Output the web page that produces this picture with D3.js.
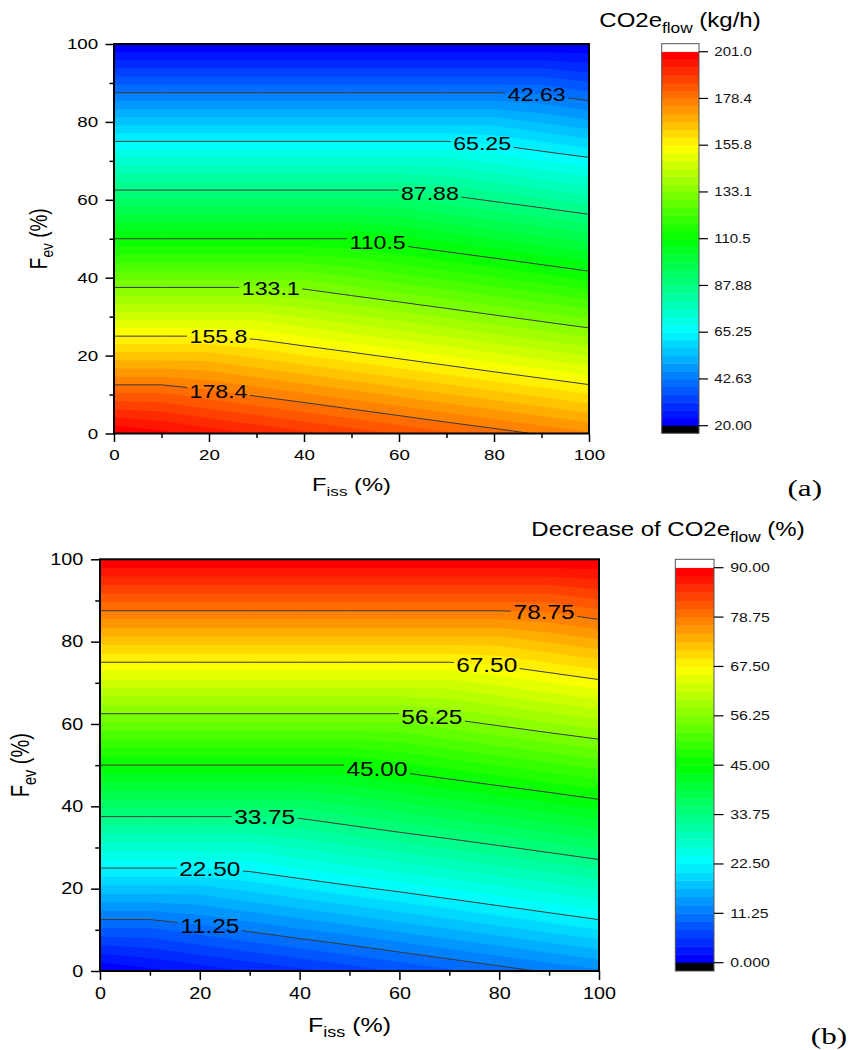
<!DOCTYPE html>
<html>
<head>
<meta charset="utf-8">
<script src="https://cdn.jsdelivr.net/npm/d3@7"></script>
<style>
  body { margin: 0; background: #fff; }
</style>
</head>
<body>
<svg id="chart"></svg>
<script>
////////////////////////////////////////////////////////////////////////
// Data

// grid positions (%)
const fissValues = [0, 10, 20, 30, 40, 50, 60, 70, 80, 90, 100];
const fevValues = [0, 10, 20, 30, 40, 50, 60, 70, 80, 90, 100];

// (a) CO2e flow (kg/h); one row per Fev, columns follow fissValues
const co2Flow = [
  [201.0, 198.4, 195.8, 193.3, 190.7, 188.1, 185.5, 182.9, 180.4, 177.8, 175.2],
  [182.9, 182.9, 180.3, 177.7, 175.2, 172.6, 170.0, 167.4, 164.8, 162.3, 159.7],
  [164.8, 164.8, 164.8, 162.2, 159.6, 157.1, 154.5, 151.9, 149.3, 146.7, 144.2],
  [146.7, 146.7, 146.7, 146.7, 144.1, 141.5, 139.0, 136.4, 133.8, 131.2, 128.6],
  [128.6, 128.6, 128.6, 128.6, 128.6, 126.0, 123.4, 120.9, 118.3, 115.7, 113.1],
  [110.5, 110.5, 110.5, 110.5, 110.5, 110.5, 107.9, 105.3, 102.8, 100.2, 97.6],
  [92.4, 92.4, 92.4, 92.4, 92.4, 92.4, 92.4, 89.8, 87.2, 84.7, 82.1],
  [74.3, 74.3, 74.3, 74.3, 74.3, 74.3, 74.3, 74.3, 71.7, 69.1, 66.6],
  [56.2, 56.2, 56.2, 56.2, 56.2, 56.2, 56.2, 56.2, 56.2, 53.6, 51.0],
  [38.1, 38.1, 38.1, 38.1, 38.1, 38.1, 38.1, 38.1, 38.1, 38.1, 35.5],
  [20.0, 20.0, 20.0, 20.0, 20.0, 20.0, 20.0, 20.0, 20.0, 20.0, 20.0]
];

// (b) decrease of CO2e flow (%)
const co2Decrease = [
  [0.0, 1.3, 2.6, 3.9, 5.1, 6.4, 7.7, 9.0, 10.3, 11.6, 12.8],
  [9.0, 9.0, 10.3, 11.6, 12.9, 14.1, 15.4, 16.7, 18.0, 19.3, 20.6],
  [18.0, 18.0, 18.0, 19.3, 20.6, 21.9, 23.1, 24.4, 25.7, 27.0, 28.3],
  [27.0, 27.0, 27.0, 27.0, 28.3, 29.6, 30.9, 32.1, 33.4, 34.7, 36.0],
  [36.0, 36.0, 36.0, 36.0, 36.0, 37.3, 38.6, 39.9, 41.1, 42.4, 43.7],
  [45.0, 45.0, 45.0, 45.0, 45.0, 45.0, 46.3, 47.6, 48.9, 50.1, 51.4],
  [54.0, 54.0, 54.0, 54.0, 54.0, 54.0, 54.0, 55.3, 56.6, 57.9, 59.1],
  [63.0, 63.0, 63.0, 63.0, 63.0, 63.0, 63.0, 63.0, 64.3, 65.6, 66.9],
  [72.0, 72.0, 72.0, 72.0, 72.0, 72.0, 72.0, 72.0, 72.0, 73.3, 74.6],
  [81.0, 81.0, 81.0, 81.0, 81.0, 81.0, 81.0, 81.0, 81.0, 81.0, 82.3],
  [90.0, 90.0, 90.0, 90.0, 90.0, 90.0, 90.0, 90.0, 90.0, 90.0, 90.0]
];

// contour levels and their labels (colour bar ticks)
const co2Levels = [20, 42.625, 65.25, 87.875, 110.5, 133.125, 155.75, 178.375, 201];
const co2LevelLabels = ["20.00", "42.63", "65.25", "87.88", "110.5", "133.1", "155.8", "178.4", "201.0"];
const decLevels = [0, 11.25, 22.5, 33.75, 45, 56.25, 67.5, 78.75, 90];
const decLevelLabels = ["0.000", "11.25", "22.50", "33.75", "45.00", "56.25", "67.50", "78.75", "90.00"];

// axis ticks
const majorTicks = [0, 20, 40, 60, 80, 100];
const minorTicks = [10, 30, 50, 70, 90];

////////////////////////////////////////////////////////////////////////
// Layout

const FONT = "'Liberation Sans', Arial, Helvetica, sans-serif";
const SX = 1.25;   // the original figure is stretched sideways

const svg = d3.select("#chart").attr("width", 849).attr("height", 1050);

// Origin style rainbow palette
const rainbow = d3.scaleLinear()
  .domain([0, 0.25, 0.5, 0.75, 1])
  .range(["#0000ff", "#00ffff", "#00ff00", "#ffff00", "#ff0000"]);

const panelA = {
  id: "a", values: co2Flow, levels: co2Levels, labels: co2LevelLabels,
  // Fiss position of the label on each inner contour (low level -> high level)
  labelFiss: [89, 77.5, 66.5, 55.5, 33, 22, 22],
  x0: 114, x1: 589, y0: 44, y1: 433.5,
  cb: { x0: 661.7, x1: 699, outTop: 43.7, top: 51.7, bottom: 425.7, outBottom: 433.3 },
  k: 1,
  title: ["CO2e", "flow", " (kg/h)"], titleX: 680, titleY: 27,
  xTitleY: 491, yTitleX: 46.5,
  tag: "(a)", tagX: 822, tagY: 496
};

const panelB = {
  id: "b", values: co2Decrease, levels: decLevels, labels: decLevelLabels,
  labelFiss: [22, 22, 33, 55.5, 66.5, 77.5, 89],
  x0: 100, x1: 599, y0: 559.3, y1: 971,
  cb: { x0: 675.3, x1: 714, outTop: 559.3, top: 567.7, bottom: 962.7, outBottom: 971 },
  k: 1.055,
  title: ["Decrease of CO2e", "flow", " (%)"], titleX: 668, titleY: 536,
  xTitleY: 1031.5, yTitleX: 28.5,
  tag: "(b)", tagX: 847, tagY: 1044
};

// text with a subscript part: [main, sub, rest]
function subText(sel, parts, size) {
  sel.append("tspan").text(parts[0]);
  sel.append("tspan").attr("font-size", size * 0.72).attr("dy", size * 0.28).text(parts[1]);
  sel.append("tspan").attr("dy", -size * 0.28).text(parts[2]);
}

function drawPanel(p) {
  const g = svg.append("g");
  const nx = fissValues.length, ny = fevValues.length;

  const x = d3.scaleLinear().domain([0, 100]).range([p.x0, p.x1]);
  const y = d3.scaleLinear().domain([0, 100]).range([p.y1, p.y0]);

  // d3.contours grid units -> data units
  const gx = d3.scaleLinear().domain([0.5, nx - 0.5]).range([fissValues[0], fissValues[nx - 1]]);
  const gy = d3.scaleLinear().domain([0.5, ny - 0.5]).range([fevValues[0], fevValues[ny - 1]]);
  const proj = d3.geoTransform({
    point(px, py) { this.stream.point(x(gx(px)), y(gy(py))); }
  });
  const path = d3.geoPath(proj);
  const flat = p.values.flat();

  // 6 filled bands between two labelled levels
  const thresholds = [];
  for (let k = 0; k < p.levels.length - 1; k++) {
    for (let j = 0; j < 6; j++) {
      thresholds.push(p.levels[k] + j * (p.levels[k + 1] - p.levels[k]) / 6);
    }
  }
  const color = i => rainbow(i / (thresholds.length - 1));

  const defs = svg.append("defs");
  defs.append("clipPath").attr("id", "clip-" + p.id)
    .append("rect")
    .attr("x", p.x0).attr("y", p.y0)
    .attr("width", p.x1 - p.x0).attr("height", p.y1 - p.y0);

  const bands = d3.contours().size([nx, ny]).thresholds(thresholds)(flat);
  g.append("g")
    .attr("clip-path", `url(#clip-${p.id})`)
    .selectAll("path")
    .data(bands)
    .join("path")
    .attr("d", path)
    .attr("fill", (d, i) => color(i));

  // contour lines + labels
  const lineLevels = p.levels.slice(1, -1);
  const lineLabels = p.labels.slice(1, -1);
  const lines = lineLevels.map(v => d3.contours().size([nx, ny]).contour(flat, v));

  // find the Fev of a contour line at a given Fiss
  function crossing(geom, f) {
    let found = null;
    geom.coordinates.forEach(poly => poly.forEach(ring => {
      for (let k = 1; k < ring.length; k++) {
        const ax = gx(ring[k - 1][0]), ay = gy(ring[k - 1][1]);
        const bx = gx(ring[k][0]), by = gy(ring[k][1]);
        if (ax === bx || (ax - f) * (bx - f) > 0) continue;
        const yy = ay + (f - ax) / (bx - ax) * (by - ay);
        if (yy >= 0 && yy <= 100) found = yy;
      }
    }));
    return found;
  }

  const labelG = g.append("g");
  const mask = defs.append("mask").attr("id", "gap-" + p.id)
    .attr("maskUnits", "userSpaceOnUse")
    .attr("x", 0).attr("y", 0).attr("width", 849).attr("height", 1050);
  mask.append("rect").attr("width", 849).attr("height", 1050).attr("fill", "#fff");

  const labelSize = 18.5 * p.k;
  lines.forEach((geom, i) => {
    const f = p.labelFiss[i];
    const fy = crossing(geom, f);
    if (fy == null) return;
    const px = x(f), py = y(fy);
    const t = labelG.append("text")
      .attr("transform", `translate(${px},${py}) scale(${SX},1)`)
      .attr("text-anchor", "middle")
      .attr("dy", "0.36em")
      .attr("font-family", FONT)
      .attr("font-size", labelSize)
      .attr("fill", "#000")
      .text(lineLabels[i]);
    const w = t.node().getComputedTextLength() * SX + 5;
    mask.append("rect")
      .attr("x", px - w / 2).attr("y", py - labelSize * 0.45)
      .attr("width", w).attr("height", labelSize * 0.9)
      .attr("fill", "#000");
  });

  g.insert("g", () => labelG.node())
    .attr("clip-path", `url(#clip-${p.id})`)
    .append("g")
    .attr("mask", `url(#gap-${p.id})`)
    .selectAll("path")
    .data(lines)
    .join("path")
    .attr("d", path)
    .attr("fill", "none")
    .attr("stroke", "#3a3a3a")
    .attr("stroke-width", 1);

  // frame
  g.append("rect")
    .attr("x", p.x0).attr("y", p.y0)
    .attr("width", p.x1 - p.x0).attr("height", p.y1 - p.y0)
    .attr("fill", "none").attr("stroke", "#000").attr("stroke-width", 2);

  // axes
  const tickSize = 8.5 * p.k;
  const tickFont = 15 * p.k;

  function styleAxis(sel) {
    sel.select(".domain").remove();
    sel.attr("font-family", FONT).attr("font-size", tickFont);
    sel.selectAll(".tick line").attr("stroke", "#000").attr("stroke-width", 1.5);
  }

  const xAxisG = g.append("g")
    .attr("transform", `translate(0,${p.y1})`)
    .call(d3.axisBottom(x).tickValues(majorTicks).tickSize(tickSize).tickPadding(15.8 * p.k - tickSize))
    .call(styleAxis);
  xAxisG.selectAll(".tick text").attr("fill", "#000").attr("transform", `scale(${SX},1)`);
  g.append("g")
    .attr("transform", `translate(0,${p.y1})`)
    .call(d3.axisBottom(x).tickValues(minorTicks).tickSize(4.5 * p.k).tickFormat(""))
    .call(styleAxis);

  const yAxisG = g.append("g")
    .attr("transform", `translate(${p.x0},0)`)
    .call(d3.axisLeft(y).tickValues(majorTicks).tickSize(tickSize))
    .call(styleAxis);
  yAxisG.selectAll(".tick text").attr("fill", "#000").attr("x", 0)
    .attr("transform", `translate(${-15.8 * p.k},0) scale(${SX},1)`);
  g.append("g")
    .attr("transform", `translate(${p.x0},0)`)
    .call(d3.axisLeft(y).tickValues(minorTicks).tickSize(4.5 * p.k).tickFormat(""))
    .call(styleAxis);

  // axis titles
  const axisFont = 19 * p.k;
  const xt = g.append("text")
    .attr("transform", `translate(${(p.x0 + p.x1) / 2},${p.xTitleY}) scale(${SX},1)`)
    .attr("text-anchor", "middle")
    .attr("font-family", FONT).attr("font-size", axisFont).attr("fill", "#000");
  subText(xt, ["F", "iss", " (%)"], axisFont);

  const yt = g.append("text")
    .attr("transform", `translate(${p.yTitleX},${(p.y0 + p.y1) / 2}) rotate(-90) scale(1,${SX})`)
    .attr("text-anchor", "middle")
    .attr("font-family", FONT).attr("font-size", axisFont).attr("fill", "#000");
  subText(yt, ["F", "ev", " (%)"], axisFont);

  // colour bar
  const c = p.cb;
  const cbScale = d3.scaleLinear()
    .domain([p.levels[0], p.levels[p.levels.length - 1]])
    .range([c.bottom, c.top]);
  const cbG = g.append("g");
  cbG.selectAll("rect.band")
    .data(thresholds)
    .join("rect")
    .attr("class", "band")
    .attr("x", c.x0)
    .attr("width", c.x1 - c.x0)
    .attr("y", (d, i) => cbScale(i < thresholds.length - 1 ? thresholds[i + 1] : p.levels[p.levels.length - 1]))
    .attr("height", (d, i) => cbScale(d) - cbScale(i < thresholds.length - 1 ? thresholds[i + 1] : p.levels[p.levels.length - 1]) + 0.4)
    .attr("fill", (d, i) => color(i));
  cbG.append("rect")
    .attr("x", c.x0).attr("y", c.outTop)
    .attr("width", c.x1 - c.x0).attr("height", c.top - c.outTop)
    .attr("fill", "#fff");
  cbG.append("rect")
    .attr("x", c.x0).attr("y", c.bottom)
    .attr("width", c.x1 - c.x0).attr("height", c.outBottom - c.bottom)
    .attr("fill", "#000");
  cbG.append("rect")
    .attr("x", c.x0).attr("y", c.outTop)
    .attr("width", c.x1 - c.x0).attr("height", c.outBottom - c.outTop)
    .attr("fill", "none").attr("stroke", "#555").attr("stroke-width", 1);

  const cbFont = 12 * p.k;
  p.levels.forEach((v, i) => {
    const yy = cbScale(v);
    cbG.append("line")
      .attr("x1", c.x1).attr("x2", c.x1 + 9 * p.k)
      .attr("y1", yy).attr("y2", yy)
      .attr("stroke", "#000").attr("stroke-width", 1.2);
    cbG.append("text")
      .attr("transform", `translate(${c.x1 + 15.3 * p.k},${yy}) scale(${SX},1)`)
      .attr("dy", "0.35em")
      .attr("font-family", FONT).attr("font-size", cbFont).attr("fill", "#111")
      .text(p.labels[i]);
  });

  // colour bar title
  const titleFont = 20;
  const tt = g.append("text")
    .attr("transform", `translate(${p.titleX},${p.titleY}) scale(1.2,1)`)
    .attr("text-anchor", "middle")
    .attr("font-family", FONT).attr("font-size", titleFont).attr("fill", "#000");
  subText(tt, p.title, titleFont);

  // panel tag
  g.append("text")
    .attr("transform", `translate(${p.tagX},${p.tagY}) scale(1.35,1)`)
    .attr("text-anchor", "end")
    .attr("font-family", "'Liberation Serif', 'Times New Roman', serif")
    .attr("font-size", 23).attr("fill", "#000")
    .text(p.tag);
}

drawPanel(panelA);
drawPanel(panelB);
</script>
</body>
</html>
